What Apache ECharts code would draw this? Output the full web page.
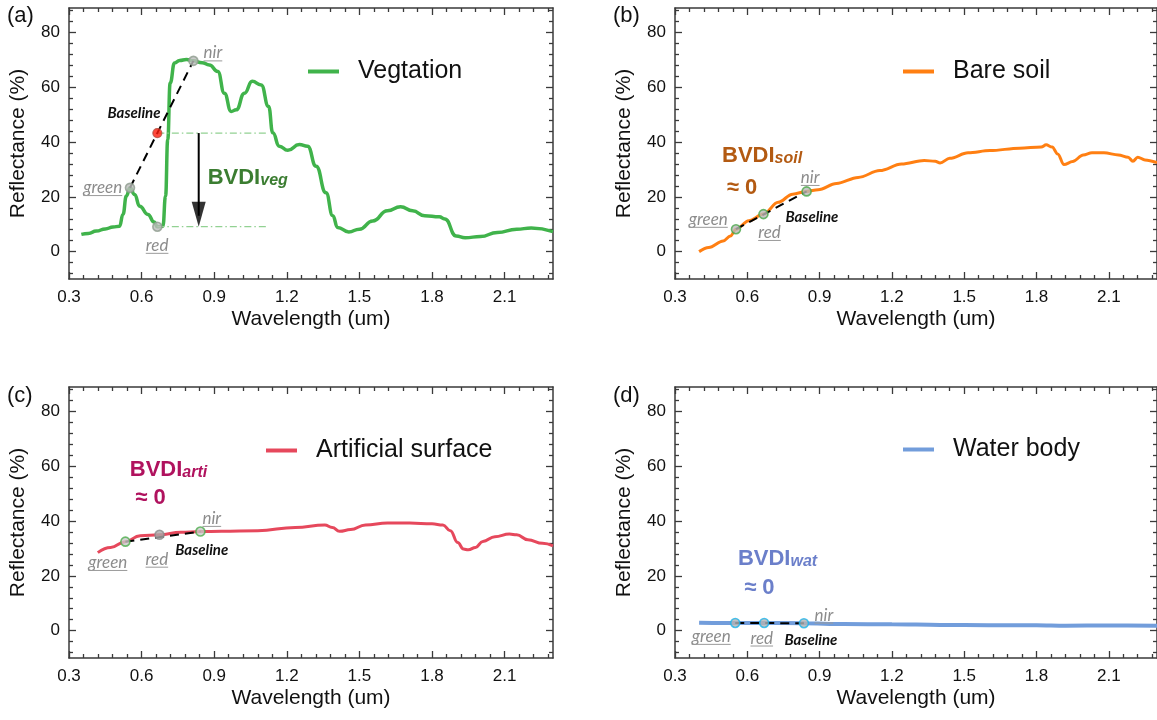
<!DOCTYPE html>
<html>
<head>
<meta charset="utf-8">
<script src="https://cdn.jsdelivr.net/npm/echarts@6/dist/echarts.min.js"></script>
<style>
  html, body { margin: 0; padding: 0; background: #fff; }
  #chart { width: 1157px; height: 720px; }
</style>
</head>
<body>
<div id="chart"></div>
<script>
// ---- Axis ticks ----
const xTicks = [0.3, 0.6, 0.9, 1.2, 1.5, 1.8, 2.1];
const xMinorTicks = [0.36, 0.42, 0.48, 0.54, 0.66, 0.72, 0.78, 0.84, 0.96, 1.02, 1.08, 1.14,
  1.26, 1.32, 1.38, 1.44, 1.56, 1.62, 1.68, 1.74, 1.86, 1.92, 1.98, 2.04, 2.16, 2.22, 2.28];
const yTicks = [0, 20, 40, 60, 80];
const yMinorTicks = [-8, -4, 4, 8, 12, 16, 24, 28, 32, 36, 44, 48, 52, 56, 64, 68, 72, 76, 84, 88];

// ---- Spectra: wavelength (um) and reflectance (%) ----
const vegWl = [0.351, 0.38, 0.413, 0.45, 0.482, 0.509, 0.523, 0.537, 0.552, 0.571, 0.592, 0.626,
  0.652, 0.665, 0.688, 0.699, 0.708, 0.718, 0.736, 0.757, 0.785, 0.814, 0.85, 0.88, 0.915, 0.942,
  0.970, 0.991, 1.025, 1.057, 1.094, 1.125, 1.142, 1.169, 1.204, 1.252, 1.286, 1.321, 1.362, 1.39,
  1.41, 1.456, 1.50, 1.555, 1.616, 1.67, 1.72, 1.77, 1.83, 1.853, 1.90, 1.937, 2.0, 2.07, 2.15, 2.21, 2.3];
const vegRefl = [6.3, 6.6, 7.5, 8.3, 9.0, 9.3, 13.6, 20.3, 23.3, 20.9, 16.6, 13.6,
  10.8, 9.1, 9.3, 20.3, 40.9, 61.6, 68.9, 69.8, 70.2, 69.7, 69.0, 68.2, 65.8, 57.9,
  51.2, 51.8, 57.9, 62.2, 60.9, 53.0, 43.4, 38.5, 37.0, 39.1, 38.5, 31.2, 21.5, 13.1,
  8.8, 7.2, 8.2, 11.2, 14.9, 16.4, 14.9, 13.1, 12.7, 11.9, 5.7, 5.1, 5.5, 7.0, 8.2, 8.6, 7.3];

const soilWl = [0.40, 0.44, 0.50, 0.53, 0.553, 0.606, 0.667, 0.728, 0.788, 0.846, 0.894, 0.97,
  1.06, 1.15, 1.24, 1.334, 1.38, 1.40, 1.44, 1.516, 1.607, 1.73, 1.82, 1.84, 1.865, 1.888,
  1.914, 1.95, 1.994, 2.03, 2.08, 2.14, 2.18, 2.20, 2.22, 2.25, 2.30];
const soilRefl = [0, 1.5, 3.9, 5.7, 8.2, 11.3, 13.7, 18.0, 21.0, 22.0, 22.6, 24.9,
  27.1, 29.6, 32.0, 33.3, 33.0, 32.4, 34.1, 36.1, 36.9, 37.8, 38.2, 39.0, 38.2, 35.7,
  31.8, 32.9, 35.3, 36.1, 36.1, 35.3, 34.5, 33.0, 34.5, 33.5, 32.5];

const artiWl = [0.419, 0.472, 0.533, 0.594, 0.674, 0.762, 0.843, 0.93, 1.08, 1.235, 1.357, 1.388,
  1.418, 1.464, 1.525, 1.616, 1.708, 1.80, 1.845, 1.876, 1.906, 1.93, 1.95, 1.98, 2.01, 2.06,
  2.12, 2.15, 2.196, 2.257, 2.30];
const artiRefl = [28.5, 30.4, 32.5, 34.7, 35.0, 35.9, 36.2, 36.3, 36.5, 37.7, 38.6, 37.7,
  36.3, 36.9, 38.6, 39.3, 39.3, 39.0, 38.6, 36.5, 32.2, 29.8, 29.5, 30.4, 32.6, 34.3,
  35.3, 35.0, 33.2, 31.9, 31.0];

const watWl = [0.40, 0.50, 0.55, 0.67, 0.835, 1.0, 1.2, 1.4, 1.6, 1.8, 1.92, 2.1, 2.3];
const watRefl = [2.9, 2.8, 2.8, 2.8, 2.7, 2.4, 2.3, 2.1, 2.0, 2.0, 1.8, 1.9, 1.8];

// ---- Green / red / NIR band samples on each spectrum ----
const vegBandWl = [0.552, 0.665, 0.814];
const vegBandRefl = [23.3, 9.1, 69.7];
const soilBandWl = [0.553, 0.667, 0.846];
const soilBandRefl = [8.2, 13.7, 22.0];
const artiBandWl = [0.533, 0.674, 0.843];
const artiBandRefl = [32.5, 35.0, 36.2];
const watBandWl = [0.55, 0.67, 0.835];
const watBandRefl = [2.8, 2.8, 2.7];

const seriesNames = ['Vegtation', 'Bare soil', 'Artificial surface', 'Water body'];

// ---- Styling ----
const AX_FONT = '"Liberation Sans", Arial, Helvetica, sans-serif';
const NOTE_FONT = 'Lato, "Open Sans", sans-serif';
const AX_COLOR = '#3a3a3a';
const TEXT_COLOR = '#111';

const panels = [
  { wl: vegWl, refl: vegRefl, bWl: vegBandWl, bRefl: vegBandRefl, color: '#40b34b', width: 3.5,
    smooth: 0.5,
    grid: { left: 69, top: 8 }, legend: { left: 308, top: 59 },
    pointFill: ['#bdbdbd', '#bdbdbd', '#bdbdbd'], pointBorder: ['#8e9c8e', '#8e9c8e', '#8e9c8e'],
    bvdi: { sub: 'veg', color: '#3b7d31', x: 0.873, y: 27.1, approx: null },
    tags: { green: [0.52, 23.4, 'right'], red: [0.664, 2.3, 'center'], nir: [0.856, 72.6, 'left'] },
    baselineText: [0.678, 50.7, 'right'] },
  { wl: soilWl, refl: soilRefl, bWl: soilBandWl, bRefl: soilBandRefl, color: '#ff7f12', width: 3,
    smooth: 0.35,
    grid: { left: 675, top: 8 }, legend: { left: 903, top: 59 },
    pointFill: ['#b9b9b9', '#b9b9b9', '#b9b9b9'], pointBorder: ['#48a848', '#48a848', '#48a848'],
    bvdi: { sub: 'soil', color: '#b35a12', x: 0.495, y: 35.0, approx: [0.515, 23.4] },
    tags: { green: [0.519, 11.8, 'right'], red: [0.692, 7.0, 'center'], nir: [0.861, 27.1, 'center'] },
    baselineText: [0.758, 12.5, 'left'] },
  { wl: artiWl, refl: artiRefl, bWl: artiBandWl, bRefl: artiBandRefl, color: '#e6485c', width: 3,
    smooth: 0.45,
    grid: { left: 69, top: 387 }, legend: { left: 266, top: 438 },
    pointFill: ['#c9c9c9', '#a9a9a9', '#c9c9c9'], pointBorder: ['#4cae4c', '#8c8c8c', '#4cae4c'],
    bvdi: { sub: 'arti', color: '#b0125e', x: 0.551, y: 58.8, approx: [0.574, 48.3] },
    tags: { green: [0.541, 24.9, 'right'], red: [0.663, 26.1, 'center'], nir: [0.890, 41.0, 'center'] },
    baselineText: [0.739, 29.5, 'left'] },
  { wl: watWl, refl: watRefl, bWl: watBandWl, bRefl: watBandRefl, color: '#729ddb', width: 4,
    smooth: 0.35,
    grid: { left: 675, top: 387 }, legend: { left: 903, top: 437 },
    pointFill: ['#b4b4b4', '#b4b4b4', '#b4b4b4'], pointBorder: ['#1eb4ea', '#1eb4ea', '#1eb4ea'],
    bvdi: { sub: 'wat', color: '#6b7fca', x: 0.561, y: 26.2, approx: [0.587, 15.5] },
    tags: { green: [0.531, -2.1, 'right'], red: [0.660, -2.7, 'center'], nir: [0.918, 5.7, 'center'] },
    baselineText: [0.754, -3.3, 'left'] }
];
const panelLetters = [['(a)', 7, 16], ['(b)', 613, 16], ['(c)', 7, 396], ['(d)', 613, 396]];

// Vegetation: BVDI construction lines
const vegGuideEndWl = 1.12;   // right end of the dash-dot reference lines
const vegArrowWl = 0.836;     // position of the BVDI arrow

const zip = (a, b) => a.map((v, i) => [v, b[i]]);
const lerpBaseline = (bw, br, w) => br[0] + (w - bw[0]) / (bw[2] - bw[0]) * (br[2] - br[0]);

const grids = [], xAxes = [], yAxes = [], series = [], legends = [];

function frameAxes(g) {
  const base = { gridIndex: g, type: 'value', splitLine: { show: false } };
  const line = { show: true, onZero: false, lineStyle: { color: AX_COLOR, width: 1.5 } };
  const hidden = { show: false, onZero: false };
  const tickStyle = { color: AX_COLOR, width: 1.3 };
  const xr = { min: 0.3, max: 2.3 }, yr = { min: -10, max: 89 };
  // bottom (labelled), bottom minor, top, top minor
  xAxes.push(Object.assign({}, base, xr, {
    position: 'bottom',
    name: 'Wavelength (um)', nameLocation: 'middle', nameGap: 30,
    nameTextStyle: { fontSize: 21, color: TEXT_COLOR, fontFamily: AX_FONT },
    axisLine: line,
    axisTick: { show: true, inside: true, length: 7, customValues: xTicks, lineStyle: tickStyle },
    axisLabel: { show: true, customValues: xTicks, margin: 10, fontSize: 17, color: TEXT_COLOR,
      fontFamily: AX_FONT, formatter: v => v.toFixed(1) }
  }));
  xAxes.push(Object.assign({}, base, xr, {
    position: 'bottom', axisLine: hidden,
    axisTick: { show: true, inside: true, length: 4, customValues: xMinorTicks, lineStyle: tickStyle },
    axisLabel: { show: false }
  }));
  xAxes.push(Object.assign({}, base, xr, {
    position: 'top', axisLine: line,
    axisTick: { show: true, inside: true, length: 7, customValues: xTicks, lineStyle: tickStyle },
    axisLabel: { show: false }
  }));
  xAxes.push(Object.assign({}, base, xr, {
    position: 'top', axisLine: hidden,
    axisTick: { show: true, inside: true, length: 4, customValues: xMinorTicks, lineStyle: tickStyle },
    axisLabel: { show: false }
  }));
  yAxes.push(Object.assign({}, base, yr, {
    position: 'left',
    name: 'Reflectance (%)', nameLocation: 'middle', nameGap: 40, nameRotate: 90,
    nameTextStyle: { fontSize: 21, color: TEXT_COLOR, fontFamily: AX_FONT },
    axisLine: line,
    axisTick: { show: true, inside: true, length: 7, customValues: yTicks, lineStyle: tickStyle },
    axisLabel: { show: true, customValues: yTicks, margin: 9, fontSize: 17, color: TEXT_COLOR,
      fontFamily: AX_FONT }
  }));
  yAxes.push(Object.assign({}, base, yr, {
    position: 'left', axisLine: hidden,
    axisTick: { show: true, inside: true, length: 4, customValues: yMinorTicks, lineStyle: tickStyle },
    axisLabel: { show: false }
  }));
  yAxes.push(Object.assign({}, base, yr, {
    position: 'right', axisLine: line,
    axisTick: { show: true, inside: true, length: 7, customValues: yTicks, lineStyle: tickStyle },
    axisLabel: { show: false }
  }));
  yAxes.push(Object.assign({}, base, yr, {
    position: 'right', axisLine: hidden,
    axisTick: { show: true, inside: true, length: 4, customValues: yMinorTicks, lineStyle: tickStyle },
    axisLabel: { show: false }
  }));
}

panels.forEach((p, g) => {
  grids.push({ left: p.grid.left, top: p.grid.top, width: 484, height: 271, containLabel: false });
  frameAxes(g);
  const ax = { xAxisIndex: 4 * g, yAxisIndex: 4 * g };

  // spectrum
  series.push(Object.assign({
    name: seriesNames[g], type: 'line', data: zip(p.wl, p.refl), symbol: 'none',
    smooth: p.smooth, smoothMonotone: 'x', z: 2,
    lineStyle: { color: p.color, width: p.width }, itemStyle: { color: p.color }
  }, ax));

  // baseline between green and NIR samples
  series.push(Object.assign({
    type: 'line', symbol: 'none', z: 4, silent: true,
    data: [[p.bWl[0], p.bRefl[0]], [p.bWl[2], p.bRefl[2]]],
    lineStyle: { color: '#000', width: 2, type: [9, 6] }
  }, ax));

  if (g === 0) {
    const baseAtRed = lerpBaseline(p.bWl, p.bRefl, p.bWl[1]);
    const guide = { color: '#92d192', width: 1.2, type: [7, 3, 1.5, 3] };
    series.push(Object.assign({ type: 'line', symbol: 'none', z: 3, silent: true,
      data: [[p.bWl[1], baseAtRed], [vegGuideEndWl, baseAtRed]], lineStyle: guide }, ax));
    series.push(Object.assign({ type: 'line', symbol: 'none', z: 3, silent: true,
      data: [[p.bWl[1], p.bRefl[1]], [vegGuideEndWl, p.bRefl[1]]], lineStyle: guide }, ax));
    // BVDI arrow: shaft + head
    series.push(Object.assign({ type: 'line', symbol: 'none', z: 5, silent: true,
      data: [[vegArrowWl, baseAtRed], [vegArrowWl, p.bRefl[1] + 4]],
      lineStyle: { color: '#000', width: 2 } }, ax));
    series.push(Object.assign({ type: 'scatter', z: 5, silent: true,
      symbol: 'path://M0,0L14,0L7,26Z', symbolSize: [14, 25], symbolOffset: [0, '-50%'],
      data: [[vegArrowWl, p.bRefl[1]]], itemStyle: { color: '#000' } }, ax));
    // baseline value at the red band
    series.push(Object.assign({ type: 'scatter', z: 7, silent: true, symbolSize: 9,
      data: [[p.bWl[1], baseAtRed]],
      itemStyle: { color: '#ff1b0b', borderColor: '#b04a3c', borderWidth: 1.2 } }, ax));
  }

  // band sample markers
  series.push(Object.assign({
    type: 'scatter', z: 6, silent: true, symbolSize: 9,
    data: p.bWl.map((w, i) => ({ value: [w, p.bRefl[i]],
      itemStyle: { color: p.pointFill[i], borderColor: p.pointBorder[i], borderWidth: 1.6 } }))
  }, ax));

  legends.push({
    data: [seriesNames[g]], left: p.legend.left, top: p.legend.top, selectedMode: false,
    padding: 0, itemWidth: 31, itemHeight: 4, icon: 'rect',
    itemStyle: { color: p.color },
    textStyle: { fontSize: 25, color: TEXT_COLOR, fontFamily: AX_FONT, padding: [0, 0, 0, 14] }
  });
});

const chart = echarts.init(document.getElementById('chart'), null, { renderer: 'canvas' });
chart.setOption({
  backgroundColor: '#fff',
  animation: false,
  grid: grids, xAxis: xAxes, yAxis: yAxes, series: series, legend: legends
});

// ---- Text annotations anchored in data space ----
const measureCtx = document.createElement('canvas').getContext('2d');
function textWidth(font, s) { measureCtx.font = font; return measureCtx.measureText(s).width; }

const graphics = [];
panelLetters.forEach(([t, x, y]) => graphics.push({
  type: 'text', x: x, y: y, z: 20,
  style: { text: t, fill: TEXT_COLOR, font: '22px ' + AX_FONT, align: 'left', verticalAlign: 'middle',
    textAlign: 'left', textVerticalAlign: 'middle' }
}));

panels.forEach((p, g) => {
  const toPx = (x, y) => chart.convertToPixel({ xAxisIndex: 4 * g, yAxisIndex: 4 * g }, [x, y]);

  // BVDI label with subscript
  const b = p.bvdi;
  const bp = toPx(b.x, b.y);
  graphics.push({
    type: 'text', x: bp[0], y: bp[1], z: 20,
    style: {
      text: '{m|BVDI}{s|' + b.sub + '}', align: 'left', verticalAlign: 'middle',
      textAlign: 'left', textVerticalAlign: 'middle',
      rich: {
        m: { fontSize: 22, fontWeight: 'bold', fontFamily: AX_FONT, fill: b.color, color: b.color },
        s: { fontSize: 16, fontWeight: 'bold', fontStyle: 'italic', fontFamily: AX_FONT,
          fill: b.color, color: b.color, verticalAlign: 'bottom' }
      }
    }
  });
  if (b.approx) {
    const ap = toPx(b.approx[0], b.approx[1]);
    graphics.push({
      type: 'text', x: ap[0], y: ap[1], z: 20,
      style: { text: '\u2248 0', fill: b.color, font: 'bold 22px ' + AX_FONT, align: 'left',
        verticalAlign: 'middle', textAlign: 'left', textVerticalAlign: 'middle' }
    });
  }

  // "Baseline"
  const bt = p.baselineText;
  const btp = toPx(bt[0], bt[1]);
  graphics.push({
    type: 'text', x: btp[0], y: btp[1], z: 20,
    style: { text: 'Baseline', fill: '#111', font: 'italic bold 15px ' + NOTE_FONT, align: bt[2],
      verticalAlign: 'middle', textAlign: bt[2], textVerticalAlign: 'middle' }
  });

  // underlined band names
  const tagFont = 'italic 17px ' + NOTE_FONT;
  Object.keys(p.tags).forEach(name => {
    const [tx, ty, al] = p.tags[name];
    const tp = toPx(tx, ty);
    const w = textWidth(tagFont, name);
    const x0 = al === 'right' ? tp[0] - w : (al === 'center' ? tp[0] - w / 2 : tp[0]);
    graphics.push({
      type: 'text', x: tp[0], y: tp[1], z: 20,
      style: { text: name, fill: '#8c8c8c', font: tagFont, align: al, verticalAlign: 'middle',
        textAlign: al, textVerticalAlign: 'middle' }
    });
    graphics.push({
      type: 'line', z: 20, silent: true,
      shape: { x1: x0, y1: tp[1] + 8, x2: x0 + w, y2: tp[1] + 8 },
      style: { stroke: '#9a9a9a', lineWidth: 1 }
    });
  });
});

chart.setOption({ graphic: graphics });
</script>
</body>
</html>
